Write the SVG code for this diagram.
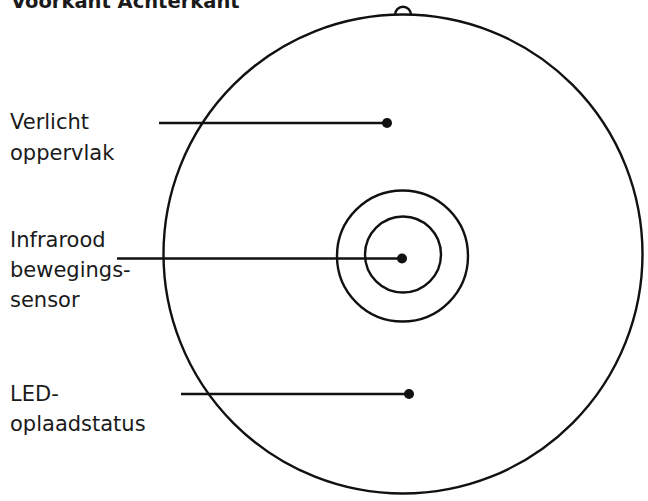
<svg xmlns="http://www.w3.org/2000/svg" width="648" height="501" viewBox="0 0 648 501">
<style>
.s{fill:none;stroke:#111;stroke-width:2.4}
.l{stroke:#111;stroke-width:2.4}
.d{fill:#111}
.t{font-family:"DejaVu Sans",sans-serif;font-size:21px;fill:#1a1a1a}
.h{font-family:"DejaVu Sans",sans-serif;font-size:19.5px;font-weight:bold;fill:#1a1a1a}
</style>
<rect width="648" height="501" fill="#fff"/>
<g id="title"><text class="h" x="11" y="8">Voorkant Achterkant</text></g>
<g id="body">
<circle class="s" cx="403" cy="254" r="239.5"/>
<path class="s" d="M395 14.8 A8 8 0 0 1 411 14.8"/>
</g>
<g id="sensor">
<circle class="s" cx="402.5" cy="256" r="65.5"/>
<circle class="s" cx="403" cy="254.5" r="38"/>
</g>
<g id="label-verlicht">
<text class="t" x="10" y="129">Verlicht</text>
<text class="t" x="10" y="160">oppervlak</text>
</g>
<g id="label-infrarood">
<text class="t" x="10" y="247">Infrarood</text>
<text class="t" x="10" y="277">bewegings-</text>
<text class="t" x="10" y="307">sensor</text>
</g>
<g id="label-led">
<text class="t" x="10" y="401">LED-</text>
<text class="t" x="10" y="431">oplaadstatus</text>
</g>
<g id="connectors">
<line class="l" x1="159" y1="123" x2="387" y2="123"/>
<circle class="d" cx="387" cy="123" r="5"/>
<line class="l" x1="117" y1="258.5" x2="402" y2="258.5"/>
<circle class="d" cx="402" cy="258.5" r="5"/>
<line class="l" x1="181" y1="394" x2="409" y2="394"/>
<circle class="d" cx="409" cy="394" r="5"/>
</g>
</svg>
